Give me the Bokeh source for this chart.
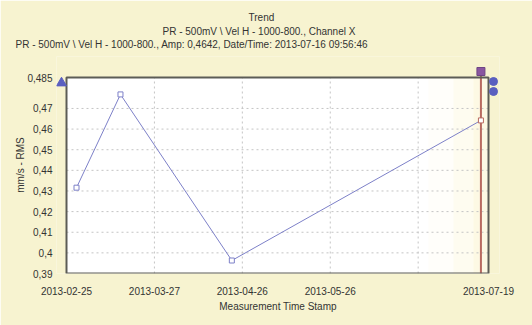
import pandas as pd
from bokeh.plotting import figure
from bokeh.models import (FixedTicker, DatetimeTickFormatter, CustomJSTickFormatter,
                          Title, Range1d, ColumnDataSource)
from bokeh.embed import file_html
from bokeh.resources import INLINE

# ---- data ----
dates = ["2013-02-28 10:00:00", "2013-03-15 10:00:00", "2013-04-22 10:00:00", "2013-07-16 09:56:46"]
amps = [0.4316, 0.4768, 0.3963, 0.4642]
marker_colors = ["#7d80c8", "#7d80c8", "#7d80c8", "#b86a60"]
x_tick_dates = ["2013-02-25", "2013-03-27", "2013-04-26", "2013-05-26", "2013-07-19"]
x_grid_dates = ["2013-03-27", "2013-04-26", "2013-05-26", "2013-06-25"]
y_ticks = [0.39, 0.40, 0.41, 0.42, 0.43, 0.44, 0.45, 0.46, 0.47, 0.485]
y_grid = [0.40, 0.41, 0.42, 0.43, 0.44, 0.45, 0.46, 0.47]
x_start, x_end = "2013-02-25", "2013-07-19"
y_start, y_end = 0.39, 0.485
cursor_time = "2013-07-16 09:56:46"
title1 = "Trend"
title2 = "PR - 500mV \\ Vel H - 1000-800., Channel X"
title3 = "PR - 500mV \\ Vel H - 1000-800., Amp: 0,4642, Date/Time: 2013-07-16 09:56:46"
x_label = "Measurement Time Stamp"
y_label = "mm/s - RMS"


def ms(s):
    return pd.Timestamp(s).value // 10**6


W, H = 532, 325
# visible plot box (pixels)
BOX_L, BOX_R, BOX_T, BOX_B = 66, 488, 77, 273
# bokeh frame (slightly larger, so handles outside the box can be drawn)
FR_L, FR_R, FR_T, FR_B = 56, 499, 56, 273

x0, x1 = ms(x_start), ms(x_end)
dx = (x1 - x0) / (BOX_R - BOX_L)
dy = (y_end - y_start) / (BOX_B - BOX_T)

FONT = "Liberation Sans"
TXT = "#333333"
CREAM = "#f7f3d0"

p = figure(width=W, height=H, x_axis_type="datetime",
           x_range=Range1d(x0 - (BOX_L - FR_L) * dx, x1 + (FR_R - BOX_R) * dx),
           y_range=Range1d(y_start - (FR_B - BOX_B) * dy, y_end + (BOX_T - FR_T) * dy),
           output_backend="svg", toolbar_location=None,
           min_border_left=FR_L, min_border_right=W - FR_R,
           min_border_top=FR_T, min_border_bottom=H - FR_B)
p.border_fill_color = CREAM
p.background_fill_color = CREAM
p.outline_line_color = None
p.xgrid.visible = False
p.ygrid.visible = False

# axes
for ax in (p.xaxis[0], p.yaxis[0]):
    ax.axis_line_color = None
    ax.major_tick_line_color = None
    ax.minor_tick_line_color = None
    ax.major_tick_out = 0
    ax.major_tick_in = 0
    ax.major_label_text_font = FONT
    ax.major_label_text_font_size = "10px"
    ax.major_label_text_color = TXT
    ax.axis_label_text_font = FONT
    ax.axis_label_text_font_size = "10px"
    ax.axis_label_text_font_style = "normal"
    ax.axis_label_text_color = TXT

p.xaxis.ticker = FixedTicker(ticks=[ms(d) for d in x_tick_dates])
fmt = "%Y-%m-%d"
p.xaxis.formatter = DatetimeTickFormatter(days=fmt, months=fmt, years=fmt, hours=fmt,
                                          minutes=fmt, seconds=fmt, milliseconds=fmt,
                                          microseconds=fmt, hourmin=fmt, minsec=fmt)
p.xaxis.major_label_standoff = 13
p.xaxis.axis_label = x_label
p.xaxis.axis_label_standoff = 3

p.yaxis.ticker = FixedTicker(ticks=y_ticks)
p.yaxis.formatter = CustomJSTickFormatter(code="return String(Math.round(tick*1000)/1000).replace('.', ',');")
p.yaxis.major_label_standoff = (FR_L - 52) if FR_L > 52 else 0
p.yaxis.axis_label = y_label
p.yaxis.axis_label_standoff = -2

# titles (later added = farther from plot)
def add_title(text, offset, standoff):
    p.add_layout(Title(text=text, align="left", offset=offset, standoff=standoff, text_font=FONT,
                       text_font_size="10px", text_font_style="normal", text_color=TXT), "above")

add_title(title3, 15 - FR_L, 13)
add_title(title2, 162 - FR_L, -12)
add_title(title1, 248 - FR_L, 13)

# plot box background (white, fading to a faint cream at the right)
p.quad(left=[x0], right=[x1], bottom=[y_start], top=[y_end], fill_color="white", line_color=None)
fade = ["#fffefa", "#fefcf0", "#fdf9e4"]
fl = [x1 - 60 * dx, x1 - 35 * dx, x1 - 15 * dx]
p.quad(left=fl, right=[x1] * 3, bottom=[y_start] * 3, top=[y_end] * 3,
       fill_color=fade, line_color=None)

# grid lines (from tick arrays)
gx = [ms(d) for d in x_grid_dates]
p.segment(x0=gx, x1=gx, y0=[y_start] * len(gx), y1=[y_end] * len(gx),
          line_color="#c4c4c4", line_dash="2 3", line_width=1)
p.segment(x0=[x0] * len(y_grid), x1=[x1] * len(y_grid), y0=y_grid, y1=y_grid,
          line_color="#c4c4c4", line_dash="2 3", line_width=1)

# cursor line
cx = ms(cursor_time)
p.segment(x0=[cx], x1=[cx], y0=[y_start], y1=[y_end + 6 * dy], line_color="#b86a60", line_width=2)

# data
src = ColumnDataSource(dict(x=[ms(d) for d in dates], y=amps, c=marker_colors))
p.line("x", "y", source=src, line_color="#7d80c8", line_width=1)
p.scatter("x", "y", source=src, marker="square", size=5, line_color="c",
          fill_color="white", line_width=1)

# plot box border
p.quad(left=[x0], right=[x1], bottom=[y_start], top=[y_end], fill_color=None,
       line_color="#5c5c56", line_width=2)

# handles
p.scatter([x0 - 5 * dx], [y_end - 5.5 * dy], marker="triangle", size=10,
          fill_color="#5a5fc0", line_color="#5a5fc0")
p.scatter([cx], [y_end + 6 * dy], marker="square", size=8,
          fill_color="#8a56a0", line_color="#6e4585")
p.scatter([x1 + 5 * dx, x1 + 5 * dx], [y_end - 4 * dy, y_end - 14 * dy], marker="circle", size=8,
          fill_color="#5a5fc0", line_color="#5a5fc0")

open("out.html", "w").write(file_html(p, INLINE))
